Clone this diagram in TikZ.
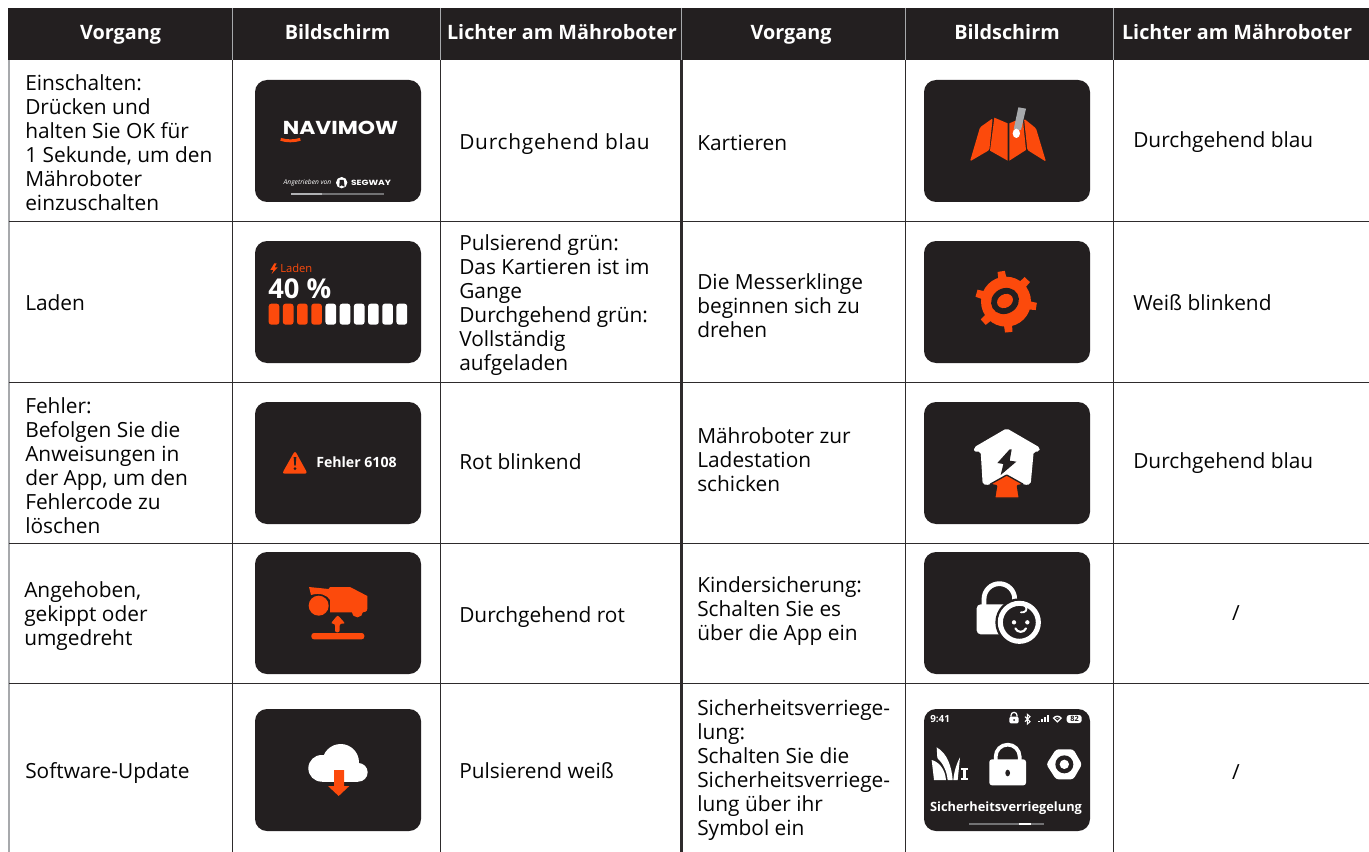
\documentclass[tikz,border=0pt]{standalone}
\usepackage{fontspec}
\setmainfont{Open Sans}
\newfontfamily\logofont{Poppins}
\definecolor{scr}{HTML}{231F20}
\definecolor{org}{HTML}{FC4A0C}
\definecolor{linec}{HTML}{2E2B2C}
\definecolor{lgray}{HTML}{A7A9AC}
\newcommand{\bodyfs}{\fontsize{15.65}{18}\selectfont}
\newcommand{\headfs}{\fontsize{14.85}{18}\selectfont\bfseries}
\tikzset{
  cell/.style={anchor=west,align=left,inner sep=0pt,font=\bodyfs,text=black!88!scr,yshift=-0.5pt},
  head/.style={anchor=base,inner sep=0pt,font=\headfs,text=white},
  screen/.style={fill=scr,draw=none,rounded corners=9pt,minimum width=124.5pt,minimum height=91.5pt,inner sep=0pt},
  gridl/.style={draw=linec,line width=0.8pt},
  headl/.style={draw=lgray,line width=0.8pt},
  za/.style={shift={(240,70)},scale=1/3},
  zb/.style={shift={(240,395)},scale=1/3},
  zc/.style={shift={(910,70)},scale=1/3},
  zd/.style={shift={(910,395)},scale=1/3},
  ze/.style={shift={(910,700)},scale=1/3},
  zf/.style={shift={(240,700)},scale=1/3},
  scrtext/.style={inner sep=0pt,text=white}
}
\begin{document}
\begin{tikzpicture}[x=0.75pt,y=-0.75pt]
\useasboundingbox (0,0) rectangle (1369,852);
\fill[white] (0,0) rectangle (1369,852);
% header
\fill[scr] (8,8) rectangle (1369,60.5);
\foreach \x in {232.5,440.5,905.5,1113.5} \draw[headl] (\x,8) -- (\x,60.5);
\draw[headl,line width=1.4pt] (681.5,8) -- (681.5,60.5);
% grid
\draw[draw=lgray,line width=0.8pt] (9,60.5) -- (9,852);
\foreach \x in {232.5,440.5,905.5,1113.5} \draw[gridl] (\x,60.5) -- (\x,852);
\draw[gridl,line width=1.8pt] (681.5,60.5) -- (681.5,852);
\foreach \y in {221.5,382.5,543.5,683.5} \draw[gridl] (9,\y) -- (1369,\y);
% header texts
\node[head] (h1) at (120.5,40) {Vorgang};
\node[head] (h2) at (337.5,40) {Bildschirm};
\node[head] (h3) at (562,40) {Lichter am Mähroboter};
\node[head] (h4) at (791,40) {Vorgang};
\node[head] (h5) at (1007,40) {Bildschirm};
\node[head] (h6) at (1237,40) {Lichter am Mähroboter};
% col 1
\node[cell] (a1) at (25,142) {Einschalten:\\Drücken und\\halten Sie OK für\\1 Sekunde, um den\\Mähroboter\\einzuschalten};
\node[cell] (a2) at (25,302) {Laden};
\node[cell] (a3) at (25,465) {Fehler:\\Befolgen Sie die\\Anweisungen in\\der App, um den\\Fehlercode zu\\löschen};
\node[cell] (a4) at (24,615.5) {Angehoben,\\gekippt oder\\umgedreht};
\node[cell] (a5) at (25,772) {Software-Update};
% col 3
\node[cell] (c1) at (459,143.5) {\addfontfeature{LetterSpace=3.6}Durchgehend blau};
\node[cell] (c2) at (459,304.5) {Pulsierend grün:\\Das Kartieren ist im\\Gange\\Durchgehend grün:\\Vollständig\\aufgeladen};
\node[cell] (c3) at (459,461) {Rot blinkend};
\node[cell] (c4) at (459,616) {Durchgehend rot};
\node[cell] (c5) at (459,770) {Pulsierend weiß};
% col 4
\node[cell] (d1) at (697,142) {Kartieren};
\node[cell] (d2) at (697,305) {Die Messerklinge\\beginnen sich zu\\drehen};
\node[cell] (d3) at (697,459) {Mähroboter zur\\Ladestation\\schicken};
\node[cell] (d4) at (697,610.5) {Kindersicherung:\\Schalten Sie es\\über die App ein};
\node[cell] (d5) at (697,769) {Sicherheitsverriege-\\lung:\\Schalten Sie die\\Sicherheitsverriege-\\lung über ihr\\Symbol ein};
% col 6
\node[cell] (f1) at (1133,141) {Durchgehend blau};
\node[cell] (f2) at (1133,302) {Weiß blinkend};
\node[cell] (f3) at (1133,462.5) {Durchgehend blau};
\node[cell,anchor=center] (f4) at (1236,612) {/};
\node[cell,anchor=center] (f5) at (1236,771) {/};
% screens
\foreach \n/\y in {1/141,2/302,3/463,4/613,5/770} \node[screen] (sl\n) at (338,\y) {};
\foreach \n/\y in {1/141,2/302,3/463,4/613,5/770} \node[screen] (sr\n) at (1007,\y) {};
% --- NAVIMOW
\node[scrtext] (logo) at (340.5,127.5) {\resizebox{86.5pt}{10pt}{\logofont\bfseries NAVIMOW}};
\begin{scope}[za]
\draw[org,line width=2.2pt] (122,208) .. controls (140,214) and (162,214) .. (181,208);
\fill[lgray!60!scr] (154,369) rectangle (433,374);
\fill[lgray!90!white] (154,369) rectangle (245,375);
\fill[white] (305,338) circle[radius=17];
\fill[scr] (299,330) -- (311,330) -- (314,350) -- (305,346) -- (298,350) -- cycle;
\end{scope}
\node[scrtext,font=\fontsize{5}{6}\selectfont\itshape] (powered) at (307.5,183) {Angetrieben von};
\node[scrtext] (segway) at (371,182.5) {\resizebox{30pt}{4pt}{\logofont\bfseries SEGWAY}};
% --- Laden
\begin{scope}[za]
\fill[org] (103,580) -- (91,600) -- (100,600) -- (95,612) -- (113,592) -- (104,592) -- (110,580) -- cycle;
\foreach \i in {0,1,2,3} \fill[org,rounded corners=2pt] ({86+42.6*\i},701) rectangle ({118+42.6*\i},764);
\foreach \i in {4,...,9} \fill[white,rounded corners=2pt] ({86+42.6*\i},701) rectangle ({118+42.6*\i},764);
\end{scope}
\node[scrtext,text=org,font=\fontsize{8.4}{10}\selectfont,anchor=west] (ladn) at (280,268.5) {Laden};
\node[scrtext,font=\fontsize{20.5}{24}\selectfont\bfseries,anchor=west] (pct) at (268,288.5) {40 \%};
% --- Fehler
\begin{scope}[zb]
\fill[org,rounded corners=2pt] (165,167) -- (203,236) -- (126,236) -- cycle;
\fill[scr] (161,186) -- (169,186) -- (167,212) -- (163,212) -- cycle;
\fill[scr] (165,221) circle[radius=4.5];
\end{scope}
\node[scrtext,font=\fontsize{10.6}{12}\selectfont\bfseries,anchor=west] (err) at (316,462.5) {Fehler 6108};
% --- Lift
\begin{scope}[zb]
\fill[org] (207,576) -- (266,582) -- (270,576) -- (330,576) -- (382,603) -- (382,640) .. controls (382,650) and (375,652) .. (368,652) -- (338,652) -- (270,652) -- (270,615) .. controls (262,600) and (240,592) .. (213,600) -- cycle;
\fill[org] (352,650) circle[radius=17];
\fill[org] (236,632) circle[radius=30];
\fill[org,rounded corners=1.5pt] (272,686) -- (293,660) -- (316,686) -- (299,686) -- (299,712) -- (285,712) -- (285,686) -- cycle;
\fill[org,rounded corners=2pt] (214,714) rectangle (373,733);
\end{scope}
% --- Map
\begin{scope}[zc]
\fill[org,rounded corners=1pt] (180,274) -- (210,172) -- (248,145) -- (238,240) -- cycle;
\fill[org] (253,143) -- (293,160) -- (293,272) -- (240,242) -- cycle;
\fill[org] (298,160) -- (338,143) -- (348,240) -- (298,272) -- cycle;
\fill[org,rounded corners=1pt] (342,146) -- (378,175) -- (408,275) -- (352,240) -- cycle;
\fill[lgray] (325,112) -- (348,116) -- (333,180) -- (311,178) -- cycle;
\fill[white] (319,190) circle[x radius=11,y radius=14];
\end{scope}
% --- Gear
\begin{scope}[zc]
\fill[org] (288,695) circle[radius=75];
\foreach \a in {-99,-46,9,85,138,196}
  \fill[org] ({288+60*cos(\a)-13*sin(\a)},{695+60*sin(\a)+13*cos(\a)}) -- ({288+92*cos(\a)-11*sin(\a)},{695+92*sin(\a)+11*cos(\a)}) -- ({288+92*cos(\a)+11*sin(\a)},{695+92*sin(\a)-11*cos(\a)}) -- ({288+60*cos(\a)+13*sin(\a)},{695+60*sin(\a)-13*cos(\a)}) -- cycle;
\fill[scr,rotate around={30:(285,693)}] (285,693) circle[x radius=43,y radius=38];
\fill[org,rotate around={30:(285,693)}] (285,693) circle[x radius=25,y radius=20];
\end{scope}
% --- House
\begin{scope}[zd]
\fill[white,rounded corners=1.5pt] (290,100) -- (390,158) -- (388,170) -- (371,170) -- (362,268) -- (342,270) -- (290,240) -- (238,270) -- (218,268) -- (212,170) -- (192,170) -- (192,157) -- cycle;
\fill[scr] (299,163) -- (262,204) -- (280,207) -- (272,240) -- (319,200) -- (299,197) -- (305,163) -- cycle;
\fill[org,draw=scr,line width=1pt,rounded corners=0.5pt] (240,268) -- (290,240) -- (340,268) -- (322,272) -- (328,309) -- (254,309) -- (260,272) -- cycle;
\end{scope}
% --- Child lock
\begin{scope}[zd]
\draw[white,line width=3.6pt] (222,640) -- (222,612) arc[start angle=180,end angle=360,radius=46] -- (314,640);
\fill[white,rounded corners=3pt] (200,628) rectangle (300,718);
\fill[scr] (328,682) circle[radius=72];
\draw[white,line width=3.8pt] (328,682) circle[radius=57];
\fill[white] (312,682) circle[radius=6.5];
\fill[white] (352,682) circle[radius=6.5];
\draw[white,line width=1.6pt,line cap=round] (316,700) .. controls (322,714) and (342,714) .. (348,700);
\draw[white,line width=1.4pt,line cap=round] (345,632) .. controls (356,644) and (345,654) .. (333,652);
\end{scope}
% --- Cloud
\begin{scope}[zf]
\fill[white] (245,205) circle[radius=40];
\fill[white] (302,187) circle[radius=55];
\fill[white] (355,217) circle[radius=28];
\fill[white] (245,205) rectangle (355,245);
\fill[org] (282,210) -- (312,210) -- (312,258) -- (328,258) -- (296,288) -- (264,258) -- (282,258) -- cycle;
\end{scope}
% --- Security lock screen
\node[scrtext,font=\fontsize{7.4}{9}\selectfont\bfseries,anchor=west] (clock) at (930,719) {9:41};
\begin{scope}[ze]
% status icons
\draw[white,line width=0.9pt] (303,50) -- (303,46) arc[start angle=180,end angle=360,radius=9] -- (321,50);
\fill[white,rounded corners=1pt] (298,50) rectangle (326,70);
\fill[scr] (312,60) circle[radius=3];
\draw[white,line width=0.8pt] (345,50) -- (360,65) -- (352,72) -- (352,43) -- (360,50) -- (345,65);
\fill[white] (384,62) rectangle (389,67);
\fill[white] (393,58) rectangle (398,67);
\fill[white] (402,52) rectangle (407,67);
\fill[white] (411,46) rectangle (416,67);
\fill[white] (442,68) -- (428,54) .. controls (436,44) and (448,44) .. (456,54) -- cycle;
\fill[scr] (442,62) -- (434,54) .. controls (439,50) and (445,50) .. (450,54) -- cycle;
\fill[white] (442,56) -- (438,54) .. controls (440,53) and (444,53) .. (446,54) -- cycle;
\fill[white,rounded corners=2pt] (470,45) rectangle (515,69);
% grass
\fill[white] (65,180) .. controls (85,185) and (105,205) .. (108,240) -- (72,240) -- cycle;
\fill[white] (80,142) .. controls (112,160) and (125,200) .. (128,240) -- (113,240) .. controls (110,210) and (97,188) .. (82,174) -- cycle;
\fill[white] (150,172) -- (143,240) -- (130,240) .. controls (132,215) and (140,190) .. (150,172) -- cycle;
\fill[white] (154,205) rectangle (174,211);
\fill[white] (154,234) rectangle (174,240);
\fill[white] (160,205) rectangle (168,240);
% lock
\draw[white,line width=2.8pt] (257,180) -- (257,170) arc[start angle=180,end angle=360,radius=36] -- (329,180);
\fill[white,rounded corners=2pt] (238,178) rectangle (348,256);
\fill[scr] (293,219) circle[x radius=7,y radius=10];
% nut
\fill[white,rounded corners=2pt] (409,193) -- (438,148) -- (490,148) -- (516,193) -- (490,238) -- (438,238) -- cycle;
\fill[scr] (463,193) circle[radius=27];
\fill[white] (463,193) circle[radius=14];
% bar
\fill[lgray!60!scr] (178,370) rectangle (402,374);
\fill[white] (328,369) rectangle (364,375);
\end{scope}
\node[scrtext,font=\fontsize{5.5}{6}\selectfont\bfseries,text=scr] (batt) at (1074.5,719) {82};
\node[scrtext,font=\fontsize{9.6}{12}\selectfont\bfseries] (seclabel) at (1006,808.5) {Sicherheitsverriegelung};
\end{tikzpicture}
\end{document}
